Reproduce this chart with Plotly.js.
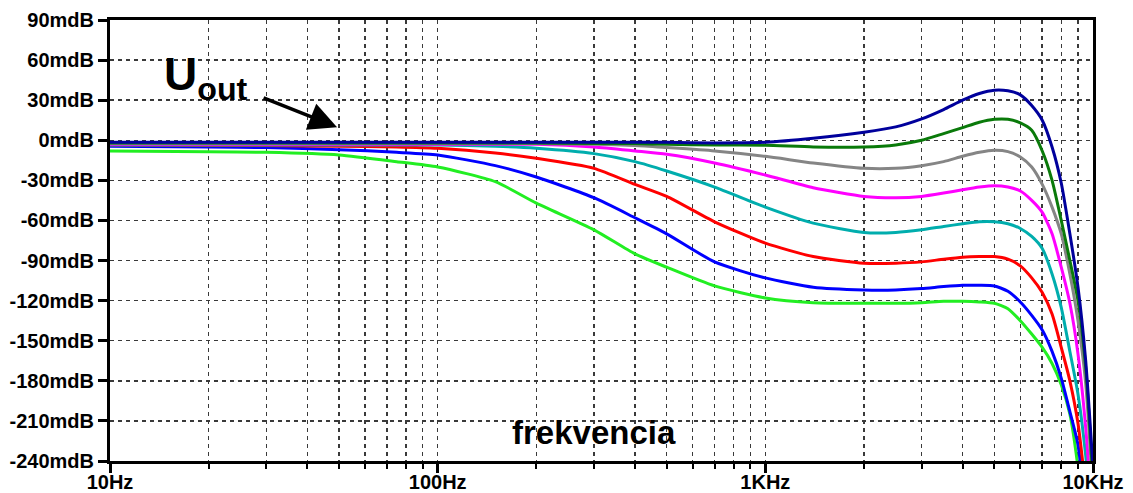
<!DOCTYPE html>
<html>
<head>
<meta charset="utf-8">
<script src="https://cdn.plot.ly/plotly-3.0.1.min.js"></script>
<style>html,body{margin:0;padding:0;background:#fff;}#chart{width:1133px;height:493px;}</style>
</head>
<body>
<div id="chart"></div>
<script>
// Frequency grid (Hz)
const freq = [10, 20, 30, 50, 75, 100, 150, 200, 300, 400, 500, 700, 1000, 1400, 2000, 2500, 3000, 3500, 4000, 4500, 5000, 5500, 6000, 6500, 7000, 7500, 8000, 8500, 9000, 9500, 10000];

// Series values (mdB)
const navy    = [-1.5, -1.5, -1.5, -1.5, -1.5, -1.5, -1.5, -1.5, -1.5, -1.5, -1.5, -2, -1.5, 1.5, 6, 10, 16, 23, 30, 35, 37.5, 37, 34, 26, 15, -5, -32, -70, -110, -165, -245];
const dgreen  = [-2, -2, -2, -2, -2, -2, -2, -2, -2.5, -2.5, -3, -3.5, -3.7, -5, -5, -3.5, 0, 5, 9.5, 13.5, 15.7, 15.7, 13, 7.5, -8, -30, -60, -90, -120, -170, -255];
const gray    = [-2.5, -2.5, -2.5, -2.5, -2.5, -2.5, -2.5, -2.5, -3, -4, -5.5, -8, -12, -17, -21, -21, -19, -16, -12, -9, -7.5, -8.5, -12.5, -20, -33, -50, -70, -100, -135, -182, -265];
const magenta = [-3, -3, -3, -3, -3, -3, -3, -3, -5, -8, -10.5, -17, -26, -35.5, -42, -43, -42, -39.5, -37, -35, -34, -35, -38, -45, -54, -70, -95, -122, -160, -215, -290];
const cyan    = [-3.5, -3.5, -3.5, -3.5, -3.5, -3.5, -4.5, -6, -10, -16, -23, -35, -50, -62, -69, -69, -67, -64.5, -62.5, -61, -61, -62.5, -66, -72, -81, -100, -125, -158, -190, -236, -300];
const red     = [-3.5, -4, -4, -4.5, -5, -6, -9.5, -13.5, -21, -33, -42, -61, -77, -87, -92, -92, -91, -89, -87.5, -87, -87, -89, -94, -103, -114, -130, -155, -180, -212, -262, -320];
const blue    = [-4.5, -5, -5.5, -7, -9, -11, -19, -27.5, -43, -58, -70, -91, -103, -110, -112, -112, -111, -109.5, -108.5, -108.5, -109, -113, -121, -131, -142, -158, -178, -203, -228, -280, -340];
const lime    = [-8, -8.5, -9, -11, -16, -20, -31, -47, -67, -85, -95, -109, -118, -121.5, -122, -122, -121.5, -120.5, -120.5, -121, -122, -126, -135, -145, -155, -167, -183, -205, -245, -300, -350];

const xTickVals = [10, 100, 1000, 10000];
const xTickText = ['10Hz', '100Hz', '1KHz', '10KHz'];
const yTickVals = [90, 60, 30, 0, -30, -60, -90, -120, -150, -180, -210, -240];
const yTickText = yTickVals.map(v => v + 'mdB');

const series = [
  {y: lime, color: '#22ee22'},
  {y: blue, color: '#0000ff'},
  {y: red, color: '#ff0000'},
  {y: cyan, color: '#00adad'},
  {y: magenta, color: '#ff00ff'},
  {y: gray, color: '#858585'},
  {y: dgreen, color: '#0a7a0a'},
  {y: navy, color: '#00009c'}
];

const traces = series.map(s => ({
  x: freq, y: s.y, type: 'scatter', mode: 'lines',
  line: {color: s.color, width: 3, shape: 'spline', smoothing: 0.6},
  hoverinfo: 'skip', showlegend: false
}));

const tickFont = {family: 'Liberation Sans, Arial, sans-serif', size: 20, color: '#000', weight: 'bold'};
const gridDash = '4px,4px';

const layout = {
  width: 1133, height: 493,
  margin: {l: 110, r: 40, t: 20, b: 32},
  paper_bgcolor: '#fff', plot_bgcolor: '#fff',
  showlegend: false,
  xaxis: {
    type: 'log', range: [1, 4],
    tickvals: xTickVals, ticktext: xTickText,
    ticks: 'outside', ticklen: 9, tickwidth: 3, tickcolor: '#000',
    ticklabelstandoff: -8,
    tickfont: tickFont,
    showline: true, linewidth: 3, linecolor: '#000', mirror: true,
    showgrid: true, gridcolor: '#3a3a3a', gridwidth: 1.5, griddash: gridDash,
    minor: {dtick: 'D1', ticks: 'outside', ticklen: 5, tickwidth: 2, tickcolor: '#000',
            showgrid: true, gridcolor: '#3a3a3a', gridwidth: 1.5, griddash: gridDash},
    zeroline: false, fixedrange: true
  },
  yaxis: {
    range: [-240, 90],
    tickvals: yTickVals, ticktext: yTickText,
    ticks: 'outside', ticklen: 9, tickwidth: 3, tickcolor: '#000',
    tickfont: tickFont,
    showline: true, linewidth: 3, linecolor: '#000', mirror: true,
    showgrid: true, gridcolor: '#3a3a3a', gridwidth: 1.5, griddash: gridDash,
    zeroline: false, fixedrange: true
  },
  annotations: [
    {text: 'U<sub>out</sub>', xref: 'paper', yref: 'paper', x: 0.053, y: 0.87,
     xanchor: 'left', yanchor: 'middle', showarrow: false,
     font: {family: 'Liberation Sans, Arial, sans-serif', size: 46, color: '#000', weight: 'bold'}},
    {text: '', xref: 'paper', yref: 'paper', x: 0.231, y: 0.757,
     showarrow: true, ax: -75, ay: -30, axref: 'pixel', ayref: 'pixel',
     arrowhead: 2, arrowsize: 1.6, arrowwidth: 3.5, arrowcolor: '#000'},
    {text: 'frekvencia', xref: 'paper', yref: 'paper', x: 0.4924, y: 0.0635,
     xanchor: 'center', yanchor: 'middle', showarrow: false,
     font: {family: 'Liberation Sans, Arial, sans-serif', size: 33, color: '#000', weight: 'bold'}}
  ]
};

Plotly.newPlot('chart', traces, layout, {displayModeBar: false, staticPlot: true});
</script>
</body>
</html>
